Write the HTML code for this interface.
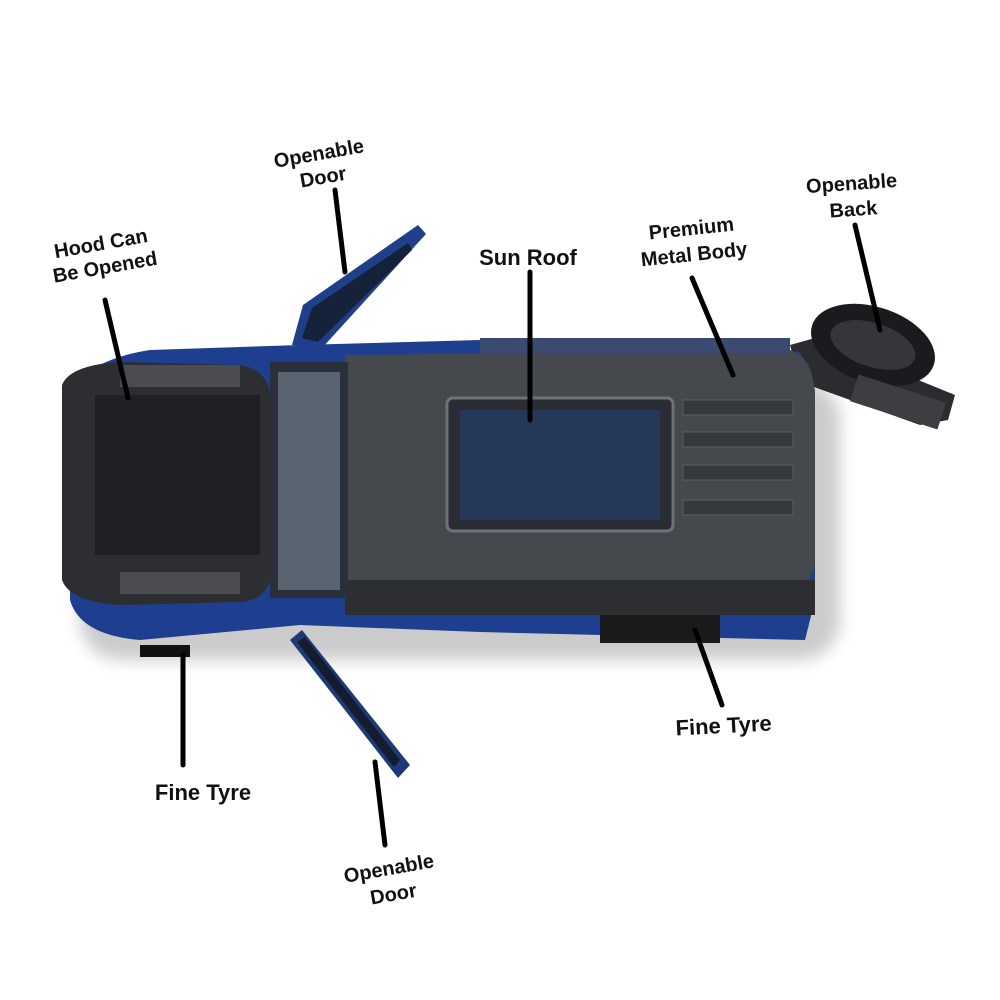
<!DOCTYPE html>
<html><head><meta charset="utf-8"><style>
html,body{margin:0;padding:0;background:#fff;}
svg{display:block}
text{font-family:"Liberation Sans",sans-serif;font-weight:bold;fill:#111;}
</style></head><body>
<svg width="1000" height="1000" viewBox="0 0 1000 1000" xmlns="http://www.w3.org/2000/svg">
<defs>
<filter id="sh" x="-10%" y="-10%" width="130%" height="140%"><feGaussianBlur stdDeviation="8"/></filter>
</defs>
<rect width="1000" height="1000" fill="#fff"/>
<rect x="80" y="380" width="760" height="280" rx="40" fill="#000" opacity="0.2" filter="url(#sh)"/>
<!-- top door -->
<polygon points="292,345 303,305 418,225 426,234 322,348" fill="#1f3f8a"/>
<polygon points="302,338 312,308 408,243 412,250 318,342" fill="#16213a"/>
<!-- bottom door -->
<polygon points="290,640 302,630 410,765 398,778" fill="#1d3978"/>
<polygon points="297,642 305,637 400,760 394,767" fill="#141c2e"/>
<!-- spare wheel / back door -->
<polygon points="790,345 815,338 955,395 948,420 920,425 800,382" fill="#2a2c30"/>
<ellipse cx="873" cy="345" rx="64" ry="38" fill="#1a1b1e" transform="rotate(18 873 345)"/>
<ellipse cx="873" cy="345" rx="44" ry="22" fill="#34363a" transform="rotate(18 873 345)"/>
<rect x="852" y="388" width="92" height="28" fill="#3c3e42" transform="rotate(18 898 402)"/>
<!-- body blue outline -->
<path d="M70,395 Q85,360 150,350 L300,345 L480,340 L700,343 L800,352 L815,390 L815,600 L805,640 L480,632 L300,625 L140,640 Q80,635 70,600 Z" fill="#1e3f8f"/>
<!-- roof -->
<path d="M345,355 L790,350 Q815,358 815,400 L815,565 Q810,585 790,588 L345,588 Z" fill="#45484d"/>
<rect x="345" y="580" width="470" height="35" fill="#2c2e31"/>
<rect x="480" y="338" width="310" height="15" fill="#3a4a70"/>
<!-- windshield area -->
<rect x="270" y="362" width="78" height="236" fill="#2a2f3a"/>
<rect x="278" y="372" width="62" height="218" fill="#5a6470"/>
<!-- hood -->
<path d="M62,385 Q70,365 120,362 L240,365 Q268,370 270,395 L270,580 Q265,600 240,602 L120,605 Q70,602 62,580 Z" fill="#2c2e31"/>
<rect x="95" y="395" width="165" height="160" fill="#1f2023"/>
<rect x="120" y="365" width="120" height="22" fill="#4a4c50"/>
<rect x="120" y="572" width="120" height="22" fill="#4a4c50"/>
<!-- sunroof -->
<rect x="447" y="398" width="226" height="133" rx="6" fill="#2a2d33" stroke="#6f7278" stroke-width="3"/>
<rect x="460" y="410" width="200" height="110" fill="#26385a"/>
<g fill="#35383c" stroke="#5a5c60">
<rect x="683" y="400" width="110" height="15"/>
<rect x="683" y="432" width="110" height="15"/>
<rect x="683" y="465" width="110" height="15"/>
<rect x="683" y="500" width="110" height="15"/>
</g>
<rect x="140" y="645" width="50" height="12" fill="#111"/>
<rect x="600" y="615" width="120" height="28" fill="#1a1a1a"/>
<g stroke="#000" stroke-width="5" stroke-linecap="round">
<line x1="335" y1="190" x2="345" y2="272"/>
<line x1="105" y1="300" x2="128" y2="398"/>
<line x1="530" y1="272" x2="530" y2="420"/>
<line x1="692" y1="278" x2="733" y2="375"/>
<line x1="855" y1="225" x2="880" y2="330"/>
<line x1="183" y1="655" x2="183" y2="765"/>
<line x1="375" y1="762" x2="385" y2="845"/>
<line x1="695" y1="630" x2="722" y2="705"/>
</g>
<g font-size="20" text-anchor="middle">
<text transform="translate(320,160) rotate(-10)"><tspan x="0" y="0">Openable</tspan><tspan x="0" y="24">Door</tspan></text>
<text transform="translate(102,250) rotate(-10)"><tspan x="0" y="0">Hood Can</tspan><tspan x="0" y="24">Be Opened</tspan></text>
<text x="528" y="265" font-size="22">Sun Roof</text>
<text transform="translate(692,235) rotate(-6)"><tspan x="0" y="0">Premium</tspan><tspan x="0" y="26">Metal Body</tspan></text>
<text transform="translate(852,190) rotate(-4)"><tspan x="0" y="0">Openable</tspan><tspan x="0" y="26">Back</tspan></text>
<text x="203" y="800" font-size="22">Fine Tyre</text>
<text transform="translate(390,875) rotate(-10)"><tspan x="0" y="0">Openable</tspan><tspan x="0" y="26">Door</tspan></text>
<text transform="translate(724,733) rotate(-3)" font-size="22">Fine Tyre</text>
</g>
</svg>
</body></html>
